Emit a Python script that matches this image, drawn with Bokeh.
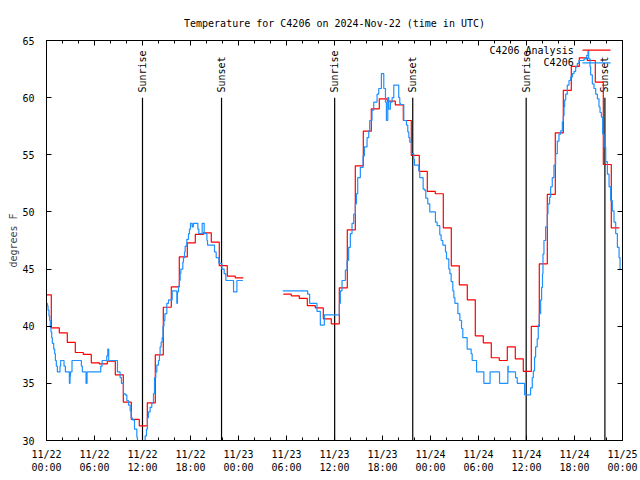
from bokeh.plotting import figure
from bokeh.models import Range1d, FixedTicker, LinearAxis
from bokeh.core.properties import value
from bokeh.embed import file_html
from bokeh.resources import INLINE

# ---------------- data ----------------
title_text = "Temperature for C4206 on 2024-Nov-22 (time in UTC)"
y_label = "degrees F"
obs_name = "C4206"
anl_name = "C4206 Analysis"

# x axis: hours since 2024-11-22 00:00 UTC
x_ticks = [0, 6, 12, 18, 24, 30, 36, 42, 48, 54, 60, 66, 72]
x_tick_labels = ["11/22\n00:00", "11/22\n06:00", "11/22\n12:00", "11/22\n18:00",
                 "11/23\n00:00", "11/23\n06:00", "11/23\n12:00", "11/23\n18:00",
                 "11/24\n00:00", "11/24\n06:00", "11/24\n12:00", "11/24\n18:00",
                 "11/25\n00:00"]
x_minor_ticks = list(range(0, 73, 2))
y_ticks = [30, 35, 40, 45, 50, 55, 60, 65]

sun_hours = [12.0, 21.88, 36.02, 45.78, 59.96, 69.8]
sun_names = ["Sunrise", "Sunset", "Sunrise", "Sunset", "Sunrise", "Sunset"]

# observations (C4206), first segment
obs1_hours = [0.0, 0.1, 0.19, 0.31, 0.4, 0.48, 0.56, 0.65, 0.73, 0.9,
              1.02, 1.11, 1.23, 1.36, 1.69, 1.77, 2.19, 2.36, 2.86, 2.94,
              3.0, 3.19, 4.36, 4.48, 4.94, 5.07, 6.78, 6.95, 7.53, 7.66,
              7.78, 8.87, 9.2, 9.37, 9.62, 9.83, 10.04, 10.25, 10.46, 10.58,
              10.71, 11.0, 11.29, 11.37, 12.33, 12.5, 12.62, 12.75, 12.95, 13.16,
              13.37, 13.5, 13.66, 13.79, 14.0, 14.12, 14.2, 14.33, 14.46, 14.56,
              14.68, 14.8, 15.04, 15.25, 15.71, 16.29, 16.37, 16.5, 16.62, 16.71,
              16.79, 17.04, 17.12, 17.25, 17.33, 17.54, 17.75, 17.87, 18.0, 18.21,
              18.37, 18.92, 19.04, 19.46, 19.71, 20.05, 20.13, 21.0, 21.21, 21.55,
              21.92, 22.21, 22.42, 23.38, 23.8, 24.55]
obs1_temps = [42.0, 41.8, 41.4, 40.9, 40.5, 39.9, 39.5, 39.0, 38.5, 38.0,
              37.6, 37.0, 36.5, 36.0, 36.5, 37.0, 36.5, 36.0, 35.0, 35.6,
              36.0, 37.0, 36.5, 36.0, 35.0, 36.0, 36.5, 37.0, 37.4, 38.0,
              37.0, 36.0, 35.5, 35.0, 34.1, 34.0, 33.5, 33.1, 32.6, 32.0,
              31.8, 31.0, 30.3, 29.0, 30.4, 31.0, 32.0, 32.5, 32.9, 33.3,
              34.1, 35.5, 36.0, 36.6, 37.0, 37.5, 38.2, 38.6, 39.0, 40.0,
              40.5, 41.1, 42.0, 42.3, 43.1, 42.0, 43.0, 43.5, 44.0, 44.6,
              45.0, 45.6, 46.0, 46.5, 47.0, 47.6, 48.1, 48.5, 49.0, 48.7,
              49.0, 48.5, 48.1, 49.0, 48.1, 47.5, 47.1, 46.5, 46.0, 45.5,
              45.0, 44.6, 44.0, 43.0, 44.0, 44.0]

# observations (C4206), second segment
obs2_hours = [29.52, 32.64, 32.89, 33.81, 34.23, 34.73, 36.61, 36.73, 36.94, 37.36,
              37.57, 37.77, 37.98, 38.19, 38.4, 38.61, 38.75, 38.9, 39.23, 39.57,
              39.74, 40.07, 40.28, 40.4, 40.69, 40.9, 41.32, 41.53, 41.86, 42.16,
              42.37, 42.49, 42.66, 42.78, 42.99, 43.2, 43.41, 44.03, 44.16, 44.24,
              44.66, 44.99, 45.16, 45.29, 45.41, 45.62, 45.91, 45.99, 46.54, 46.66,
              47.08, 47.25, 47.41, 47.66, 47.91, 48.62, 48.83, 49.16, 49.33, 49.54,
              49.87, 50.0, 50.29, 50.42, 50.58, 50.79, 50.92, 51.05, 51.42, 51.67,
              51.88, 52.04, 52.58, 53.08, 53.21, 53.76, 54.67, 55.45, 56.63, 57.67,
              57.72, 58.63, 58.84, 59.76, 60.51, 60.72, 60.85, 61.01, 61.14, 61.34,
              61.47, 61.6, 61.77, 61.89, 62.0, 62.06, 62.18, 62.39, 62.6, 62.68,
              62.89, 63.02, 63.22, 63.43, 63.64, 63.85, 64.06, 64.27, 64.48, 64.6,
              64.69, 64.77, 64.9, 65.1, 65.31, 65.52, 65.73, 65.94, 66.15, 66.35,
              66.56, 67.19, 67.52, 67.69, 67.77, 67.94, 68.02, 68.23, 68.44, 68.65,
              68.86, 69.06, 69.19, 69.36, 69.52, 69.69, 69.9, 70.11, 70.32, 70.52,
              70.73, 70.94, 71.15, 71.36, 71.57, 71.69, 71.8]
obs2_temps = [43.1, 42.8, 42.0, 41.3, 40.1, 41.0, 42.0, 43.1, 44.0, 44.9,
              45.75, 46.9, 48.1, 49.0, 49.8, 50.7, 51.6, 53.0, 53.9, 54.9,
              55.7, 56.5, 57.1, 58.0, 58.9, 59.6, 60.3, 60.8, 62.1, 60.8,
              59.6, 58.0, 60.0, 59.0, 59.6, 60.0, 61.1, 60.0, 59.5, 59.4,
              58.0, 57.6, 57.0, 56.5, 56.1, 55.1, 54.6, 54.1, 53.6, 53.0,
              52.0, 51.9, 51.2, 50.7, 50.0, 49.1, 48.8, 48.0, 47.5, 47.1,
              46.5, 45.9, 45.0, 44.6, 43.9, 43.1, 42.5, 42.0, 41.1, 40.5,
              39.8, 39.0, 38.0, 37.6, 37.0, 36.0, 35.0, 36.0, 35.0, 36.5,
              36.0, 35.5, 35.0, 34.0, 34.6, 35.5, 36.1, 37.3, 38.2, 38.9,
              40.1, 41.1, 42.3, 43.4, 44.6, 46.3, 47.5, 48.7, 49.8, 50.7,
              51.3, 52.2, 53.0, 54.1, 55.1, 56.2, 56.8, 57.1, 57.9, 58.4,
              59.2, 59.8, 60.3, 61.1, 61.5, 61.8, 62.1, 62.3, 62.7, 63.0,
              63.25, 63.4, 63.7, 64.1, 63.4, 62.7, 62.0, 61.2, 60.8, 60.3,
              59.9, 59.2, 58.7, 58.3, 56.8, 55.7, 54.4, 53.3, 52.2, 51.0,
              50.1, 49.1, 48.1, 46.9, 46.0, 45.0, 45.0]

# hourly analysis (valid at HH:06), two segments
anl1_hours = [h + 0.1 for h in range(0, 25)]
anl1_temps = [42.75, 39.86, 39.42, 38.58, 37.7, 37.53, 36.8, 36.7, 36.94, 35.75,
              33.35, 31.84, 31.28, 33.3, 37.5, 41.66, 43.45, 46.07, 47.3, 48.03,
              48.17, 47.35, 45.3, 44.38, 44.23]
anl2_hours = [h + 0.1 for h in range(30, 72)]
anl2_temps = [42.8, 42.66, 42.43, 41.81, 41.6, 40.65, 40.21, 43.36, 48.43, 54.03,
              57.07, 59.02, 59.9, 59.69, 59.37, 58.0, 54.94, 53.54, 51.79, 51.59,
              48.61, 45.28, 43.62, 42.31, 39.16, 38.55, 37.24, 37.0, 38.2, 37.15,
              36.04, 39.98, 45.46, 51.53, 56.92, 60.63, 62.73, 63.48, 63.25, 61.35,
              54.15, 48.61]

# ---------------- styling ----------------
FONT = "DejaVu Sans Mono"
FS = "10px"
RED = "#ff0000"
BLUE = "#1e90ff"
LW = 1.2

p = figure(width=640, height=480, x_range=Range1d(0, 72), y_range=Range1d(30, 65),
           output_backend="svg", toolbar_location=None,
           min_border_left=46, min_border_right=18, min_border_top=40, min_border_bottom=40)
p.xgrid.visible = False
p.ygrid.visible = False
p.outline_line_color = "black"
p.outline_line_width = 1
p.background_fill_color = "white"
p.border_fill_color = "white"

p.title.text = title_text
p.title.align = "center"
p.title.vertical_align = "top"
p.title.text_font = FONT
p.title.text_font_size = FS
p.title.text_font_style = "normal"
p.title.text_color = "black"
p.title.standoff = 20

def style_axis(ax, show_labels):
    ax.axis_line_color = "black"
    ax.major_tick_line_color = "black"
    ax.minor_tick_line_color = "black"
    ax.major_tick_in = 5
    ax.major_tick_out = 0
    ax.minor_tick_in = 3
    ax.minor_tick_out = 0
    ax.major_label_text_font = FONT
    ax.major_label_text_color = "black"
    if show_labels:
        ax.major_label_text_font_size = FS
    else:
        ax.major_label_text_font_size = "0px"
        ax.major_label_standoff = 0

xt = FixedTicker(ticks=x_ticks, minor_ticks=x_minor_ticks)
yt = FixedTicker(ticks=y_ticks, minor_ticks=[])

xa = p.xaxis[0]
xa.ticker = xt
xa.major_label_overrides = dict(zip(x_ticks, x_tick_labels))
style_axis(xa, True)
xa.major_label_standoff = 8
xa.major_label_text_line_height = 1.25

ya = p.yaxis[0]
ya.ticker = yt
style_axis(ya, True)
ya.major_label_standoff = 12
ya.axis_label = y_label
ya.axis_label_text_font = FONT
ya.axis_label_text_font_size = FS
ya.axis_label_text_font_style = "normal"
ya.axis_label_standoff = 0

top = LinearAxis(ticker=FixedTicker(ticks=x_ticks, minor_ticks=x_minor_ticks))
style_axis(top, False)
top.major_label_overrides = {t: "" for t in x_ticks}
p.add_layout(top, "above")

right = LinearAxis(ticker=FixedTicker(ticks=y_ticks, minor_ticks=[]))
style_axis(right, False)
right.major_label_overrides = {t: "" for t in y_ticks}
p.add_layout(right, "right")

# sunrise / sunset markers
p.segment(x0=sun_hours, y0=[30] * len(sun_hours), x1=sun_hours, y1=[60] * len(sun_hours),
          line_color="black", line_width=LW)
p.text(x=sun_hours, y=[60.45] * len(sun_hours), text=sun_names, angle=1.5707963,
       text_align="left", text_baseline="middle",
       text_font=value(FONT), text_font_size=FS, text_color="black")

# analysis: hourly values drawn as centred steps
def centred_steps(times, vals):
    xs = [t - 0.5 for t in times] + [times[-1] + 0.5]
    ys = list(vals) + [vals[-1]]
    return xs, ys

for th, tv in ((anl1_hours, anl1_temps), (anl2_hours, anl2_temps)):
    sx, sy = centred_steps(th, tv)
    p.step(sx, sy, mode="after", line_color=RED, line_width=LW)

# observations: steps
for th, tv in ((obs1_hours, obs1_temps), (obs2_hours, obs2_temps)):
    p.step(th, tv, mode="after", line_color=BLUE, line_width=LW)

# key (text left of the sample line)
key_y = [64.15, 63.05]
p.text(x=[65.9, 65.9], y=key_y, text=[anl_name, obs_name], text_align="right",
       text_baseline="middle", text_font=value(FONT), text_font_size=FS, text_color="black")
p.segment(x0=[67.0], y0=[key_y[0]], x1=[70.5], y1=[key_y[0]], line_color=RED, line_width=LW)
p.segment(x0=[67.0], y0=[key_y[1]], x1=[70.5], y1=[key_y[1]], line_color=BLUE, line_width=LW)

open("out.html", "w").write(file_html(p, INLINE))
